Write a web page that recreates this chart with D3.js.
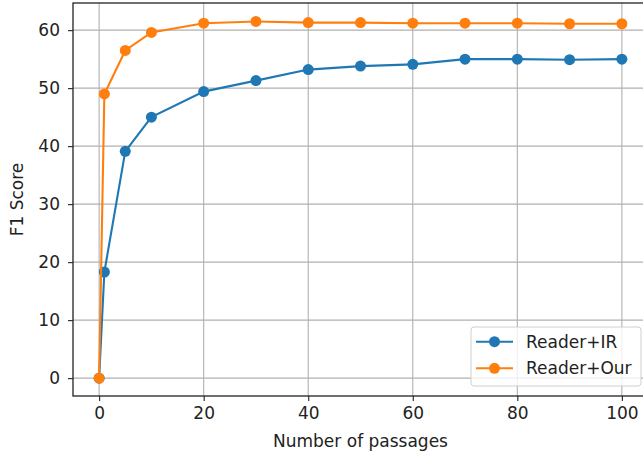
<!DOCTYPE html>
<html>
<head>
<meta charset="utf-8">
<script src="https://cdn.jsdelivr.net/npm/d3@7"></script>
<style>
  body { margin: 0; background: #fff; }
  svg { display: block; font-family: "DejaVu Sans", sans-serif; }
</style>
</head>
<body>
<svg id="chart" width="643" height="455"></svg>
<script>
// values
var passages = [0, 1, 5, 10, 20, 30, 40, 50, 60, 70, 80, 90, 100];
var readerIR = [0, 18.3, 39.1, 45.0, 49.4, 51.3, 53.2, 53.8, 54.1, 55.0, 55.0, 54.9, 55.0];
var readerOur = [0, 49.0, 56.5, 59.6, 61.2, 61.5, 61.3, 61.3, 61.2, 61.2, 61.2, 61.1, 61.1];
var xTicks = [0, 20, 40, 60, 80, 100];
var yTicks = [0, 10, 20, 30, 40, 50, 60];
var seriesNames = ['Reader+IR', 'Reader+Our'];
var seriesColors = ['#1f77b4', '#ff7f0e'];

var svg = d3.select('#chart');
var plotLeft = 73, plotRight = 648, plotTop = 3, plotBottom = 396;
var fontSize = 17;

var x = d3.scaleLinear().domain([-5, 105]).range([plotLeft, plotRight]);
var y = d3.scaleLinear().domain([-3.08, 64.68]).range([plotBottom, plotTop]);

// grid
svg.append('g').selectAll('line')
  .data(xTicks).enter().append('line')
  .attr('x1', d => x(d)).attr('x2', d => x(d))
  .attr('y1', plotTop).attr('y2', plotBottom)
  .style('stroke', '#b0b0b0').style('stroke-width', 1.1);
svg.append('g').selectAll('line')
  .data(yTicks).enter().append('line')
  .attr('x1', plotLeft).attr('x2', plotRight)
  .attr('y1', d => y(d)).attr('y2', d => y(d))
  .style('stroke', '#b0b0b0').style('stroke-width', 1.1);

// axes
var xAxis = svg.append('g')
  .attr('transform', 'translate(0,' + plotBottom + ')')
  .call(d3.axisBottom(x).tickValues(xTicks).tickSize(5).tickPadding(6).tickSizeOuter(0));
var yAxis = svg.append('g')
  .attr('transform', 'translate(' + plotLeft + ',0)')
  .call(d3.axisLeft(y).tickValues(yTicks).tickSize(5).tickPadding(8).tickSizeOuter(0));
[xAxis, yAxis].forEach(function(a) {
  a.select('.domain').remove();
  a.selectAll('text').style('font-size', fontSize + 'px').style('fill', '#222')
    .style('font-family', '"DejaVu Sans", sans-serif');
  a.selectAll('line').style('stroke', '#222').style('stroke-width', 1.1);
});

// frame
svg.append('rect')
  .attr('x', plotLeft).attr('y', plotTop)
  .attr('width', plotRight - plotLeft).attr('height', plotBottom - plotTop)
  .style('fill', 'none').style('stroke', '#222').style('stroke-width', 1.3);

// series
var allSeries = [readerIR, readerOur];
var line = d3.line().x((d, i) => x(passages[i])).y(d => y(d));
allSeries.forEach(function(vals, k) {
  svg.append('path').datum(vals)
    .attr('d', line)
    .style('fill', 'none')
    .style('stroke', seriesColors[k])
    .style('stroke-width', 2.1);
  svg.append('g').selectAll('circle')
    .data(vals).enter().append('circle')
    .attr('cx', (d, i) => x(passages[i]))
    .attr('cy', d => y(d))
    .attr('r', 5.5)
    .style('fill', seriesColors[k]);
});

// labels
svg.append('text')
  .attr('x', (plotLeft + plotRight) / 2).attr('y', 447)
  .attr('text-anchor', 'middle')
  .style('font-size', fontSize + 'px').style('fill', '#222')
  .text('Number of passages');
svg.append('text')
  .attr('transform', 'translate(23,' + ((plotTop + plotBottom) / 2) + ') rotate(-90)')
  .attr('text-anchor', 'middle')
  .style('font-size', fontSize + 'px').style('fill', '#222')
  .text('F1 Score');

// legend
var legend = svg.append('g');
legend.append('rect')
  .attr('x', 471).attr('y', 327).attr('width', 170).attr('height', 59)
  .attr('rx', 3)
  .style('fill', 'rgba(255,255,255,0.8)').style('stroke', '#d0d0d0').style('stroke-width', 1);
seriesNames.forEach(function(name, k) {
  var cy = 341.7 + k * 26.6;
  legend.append('line')
    .attr('x1', 476).attr('x2', 513).attr('y1', cy).attr('y2', cy)
    .style('stroke', seriesColors[k]).style('stroke-width', 2.1);
  legend.append('circle')
    .attr('cx', 494.5).attr('cy', cy).attr('r', 5.5)
    .style('fill', seriesColors[k]);
  legend.append('text')
    .attr('x', 526).attr('y', cy + 6)
    .style('font-size', fontSize + 'px').style('fill', '#222')
    .text(name);
});
</script>
</body>
</html>
